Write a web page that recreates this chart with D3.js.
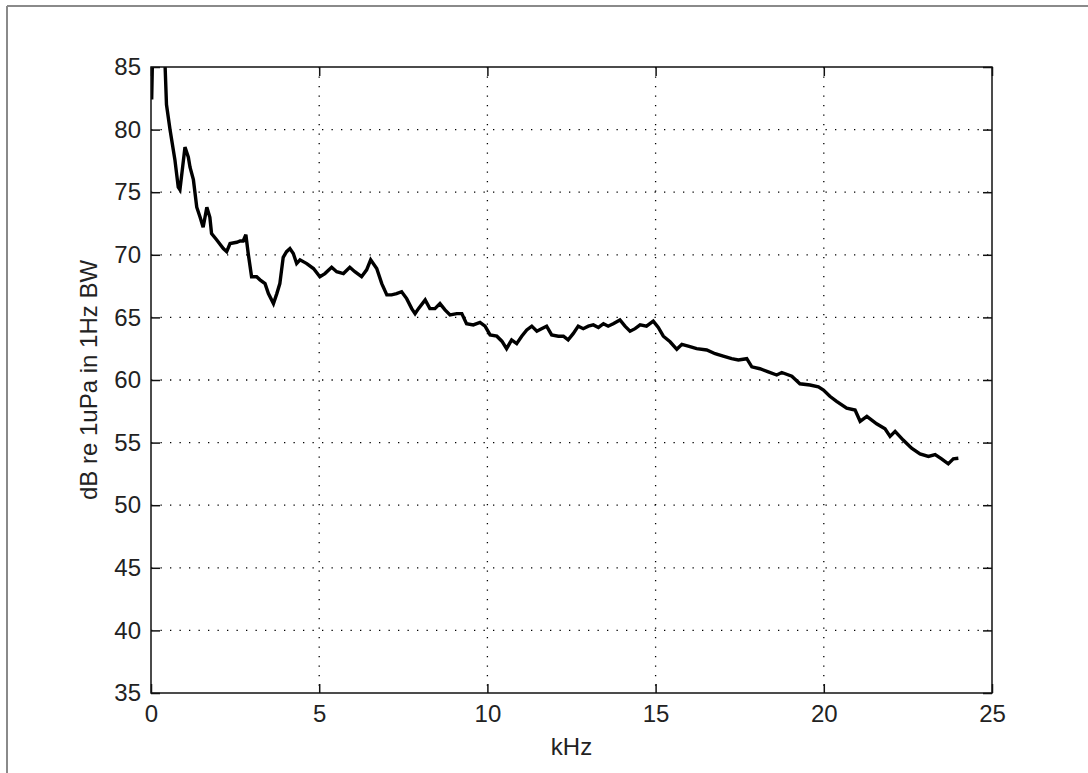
<!DOCTYPE html>
<html>
<head>
<meta charset="utf-8">
<script src="https://cdn.jsdelivr.net/npm/d3@7"></script>
<style>
  body { margin: 0; background: #fff; }
  svg { display: block; }
  .tick text { font-family: "Liberation Sans", Arial, sans-serif; font-size: 24px; fill: #222; }
  .lbl { font-family: "Liberation Sans", Arial, sans-serif; font-size: 24px; fill: #222; }
</style>
</head>
<body>
<div id="chart"></div>
<script>
// spectrum (kHz, dB re 1uPa in 1Hz BW)
var kHz = [0.02, 0.05, 0.12, 0.30, 0.38, 0.42, 0.46, 0.565, 0.71, 0.81, 0.86, 0.94, 1.01, 1.11, 1.16,
  1.26, 1.36, 1.46, 1.55, 1.66, 1.75, 1.80, 1.95, 2.15, 2.25, 2.35, 2.55, 2.65, 2.74, 2.82,
  2.89, 2.99, 3.14, 3.24, 3.39, 3.49, 3.64, 3.74, 3.83, 3.93, 4.03, 4.13, 4.23, 4.33, 4.43,
  4.63, 4.83, 5.02, 5.17, 5.37, 5.52, 5.72, 5.91, 6.06, 6.26, 6.41, 6.53, 6.71, 6.86, 7.01,
  7.15, 7.30, 7.45, 7.60, 7.75, 7.85, 7.95, 8.15, 8.29, 8.44, 8.59, 8.74, 8.89, 9.09, 9.24,
  9.38, 9.58, 9.78, 9.93, 10.08, 10.28, 10.43, 10.57, 10.72, 10.87, 11.02, 11.17, 11.32, 11.47, 11.61,
  11.76, 11.91, 12.11, 12.26, 12.40, 12.55, 12.70, 12.85, 13.00, 13.15, 13.30, 13.45, 13.59, 13.74, 13.94,
  14.09, 14.24, 14.39, 14.54, 14.73, 14.93, 15.08, 15.23, 15.43, 15.63, 15.78, 15.97, 16.22, 16.52, 16.77,
  17.01, 17.26, 17.46, 17.71, 17.86, 18.10, 18.35, 18.60, 18.75, 19.05, 19.29, 19.59, 19.84, 19.99, 20.18,
  20.38, 20.68, 20.93, 21.08, 21.28, 21.57, 21.82, 21.97, 22.12, 22.36, 22.61, 22.86, 23.11, 23.31, 23.50,
  23.70, 23.85, 24.00];
var dB = [82.4, 86.5, 95, 95, 87.5, 85.0, 82.0, 80.0, 77.6, 75.4, 75.2, 77.0, 78.6, 77.8, 77.0,
  76.0, 73.8, 73.0, 72.2, 73.8, 73.0, 71.7, 71.2, 70.5, 70.25, 70.9, 71.0, 71.1, 71.1, 71.6,
  70.1, 68.25, 68.25, 68.0, 67.7, 66.9, 66.1, 66.9, 67.7, 69.8, 70.25, 70.5, 70.1, 69.3, 69.6,
  69.3, 68.9, 68.25, 68.5, 69.0, 68.65, 68.5, 69.0, 68.65, 68.25, 68.8, 69.6, 68.9, 67.7, 66.8,
  66.8, 66.9, 67.05, 66.5, 65.7, 65.3, 65.7, 66.4, 65.7, 65.7, 66.1, 65.6, 65.2, 65.3, 65.3,
  64.5, 64.4, 64.6, 64.3, 63.6, 63.5, 63.1, 62.5, 63.2, 62.9, 63.5, 64.0, 64.3, 63.9, 64.1,
  64.3, 63.6, 63.5, 63.5, 63.2, 63.7, 64.3, 64.1, 64.3, 64.4, 64.2, 64.5, 64.3, 64.5, 64.8,
  64.3, 63.9, 64.1, 64.4, 64.3, 64.7, 64.2, 63.5, 63.05, 62.45, 62.85, 62.7, 62.5, 62.4, 62.1,
  61.9, 61.7, 61.6, 61.7, 61.05, 60.9, 60.65, 60.4, 60.6, 60.3, 59.7, 59.6, 59.45, 59.2, 58.7,
  58.3, 57.75, 57.6, 56.7, 57.1, 56.5, 56.1, 55.5, 55.9, 55.2, 54.55, 54.1, 53.9, 54.05, 53.7,
  53.3, 53.7, 53.75];

var xTicks = [0, 5, 10, 15, 20, 25];
var yTicks = [35, 40, 45, 50, 55, 60, 65, 70, 75, 80, 85];
var xLabel = "kHz";
var yLabel = "dB re 1uPa in 1Hz BW";

var W = 1088, H = 773;
var m = {left: 151, top: 67, right: 992, bottom: 693};

var svg = d3.select("#chart").append("svg").attr("width", W).attr("height", H);

// figure frame (grey edge at top and left)
svg.append("line").attr("x1", 7).attr("y1", 6).attr("x2", W).attr("y2", 6)
   .attr("stroke", "#8a8a8a").attr("stroke-width", 2);
svg.append("line").attr("x1", 7).attr("y1", 6).attr("x2", 7).attr("y2", H)
   .attr("stroke", "#8a8a8a").attr("stroke-width", 2);

var x = d3.scaleLinear().domain([0, 25]).range([m.left, m.right]);
var y = d3.scaleLinear().domain([35, 85]).range([m.bottom, m.top]);

// dotted grid
var grid = svg.append("g").attr("stroke", "#000").attr("stroke-width", 1.3)
   .attr("stroke-dasharray", "1.3,8.2");
grid.selectAll(".gx").data(xTicks.slice(1, -1)).enter().append("line")
   .attr("x1", function(d){ return x(d); }).attr("x2", function(d){ return x(d); })
   .attr("y1", m.top).attr("y2", m.bottom);
grid.selectAll(".gy").data(yTicks.slice(1, -1)).enter().append("line")
   .attr("y1", function(d){ return y(d); }).attr("y2", function(d){ return y(d); })
   .attr("x1", m.left).attr("x2", m.right);

// axes, ticks pointing inward on all four sides
var gb = svg.append("g").attr("transform", "translate(0," + m.bottom + ")")
   .call(d3.axisBottom(x).tickValues(xTicks).tickSize(-9).tickPadding(12).tickFormat(d3.format("d")));
var gl = svg.append("g").attr("transform", "translate(" + m.left + ",0)")
   .call(d3.axisLeft(y).tickValues(yTicks).tickSize(-9).tickPadding(10).tickFormat(d3.format("d")));
var gt = svg.append("g").attr("transform", "translate(0," + m.top + ")")
   .call(d3.axisTop(x).tickValues(xTicks).tickSize(-9).tickFormat(""));
var gr = svg.append("g").attr("transform", "translate(" + m.right + ",0)")
   .call(d3.axisRight(y).tickValues(yTicks).tickSize(-9).tickFormat(""));
[gb, gl, gt, gr].forEach(function(g){
  g.select(".domain").remove();
  g.selectAll(".tick line").attr("stroke", "#111").attr("stroke-width", 1.5);
});

// clip + line
svg.append("clipPath").attr("id", "plotclip").append("rect")
   .attr("x", m.left).attr("y", m.top).attr("width", m.right - m.left).attr("height", m.bottom - m.top);

var pts = kHz.map(function(k, i){ return [k, dB[i]]; });
var line = d3.line().x(function(d){ return x(d[0]); }).y(function(d){ return y(d[1]); });
svg.append("path").datum(pts).attr("clip-path", "url(#plotclip)")
   .attr("d", line).attr("fill", "none").attr("stroke", "#000")
   .attr("stroke-width", 3.4).attr("stroke-linejoin", "miter").attr("stroke-miterlimit", 3);

svg.append("rect").attr("x", m.left).attr("y", m.top)
   .attr("width", m.right - m.left).attr("height", m.bottom - m.top)
   .attr("fill", "none").attr("stroke", "#111").attr("stroke-width", 1.5);

// labels
svg.append("text").attr("class", "lbl").attr("x", (m.left + m.right) / 2).attr("y", 755)
   .attr("text-anchor", "middle").text(xLabel);
svg.append("text").attr("class", "lbl")
   .attr("transform", "translate(97," + ((m.top + m.bottom) / 2) + ") rotate(-90)")
   .attr("text-anchor", "middle").text(yLabel);
</script>
</body>
</html>
